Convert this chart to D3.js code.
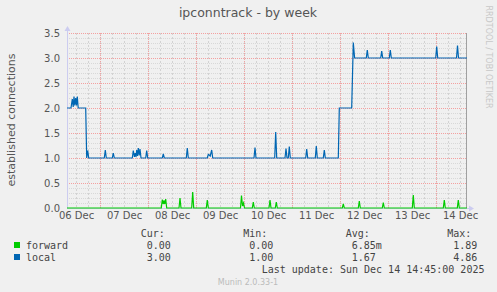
<!DOCTYPE html>
<html>
<head>
<meta charset="utf-8">
<script src="https://cdn.jsdelivr.net/npm/d3@7"></script>
<style>
    html, body { margin: 0; padding: 0; background: #f0f0f0; }
    svg { display: block; }
</style>
</head>
<body>
<svg id="chart" width="497" height="292"></svg>
<script>
// hours counted from 06 Dec 2025 00:00
var startHour = 7.5, endHour = 207.5;
var xTickLabels = ['06 Dec', '07 Dec', '08 Dec', '09 Dec', '10 Dec', '11 Dec', '12 Dec', '13 Dec', '14 Dec'];
var yTicks = [0, 0.5, 1.0, 1.5, 2.0, 2.5, 3.0, 3.5];

var forwardHours = [7.5, 54.65, 55.15, 55.6, 56, 56.4, 56.85, 57.35, 63.5, 64, 64.5, 69.85, 70.35, 70.85,
    77.15, 77.65, 78.15, 94.25, 94.75, 95.25, 95.75, 96.25, 100.15, 100.65, 101.15, 108.5, 109, 109.5,
    111.65, 112.15, 112.65, 145.15, 145.65, 146.15, 153.15, 153.65, 154.15, 165.15, 165.65, 166.15,
    180.15, 180.65, 181.15, 195.65, 196.15, 196.65, 202.65, 203.15, 203.65, 207.5];
var forwardValues = [0, 0, 0.17, 0.08, 0.15, 0.08, 0.18, 0, 0, 0.2, 0, 0, 0.32, 0,
    0, 0.16, 0, 0, 0.25, 0.04, 0.1, 0, 0, 0.12, 0, 0, 0.16, 0,
    0, 0.12, 0, 0, 0.08, 0, 0, 0.14, 0, 0, 0.11, 0,
    0, 0.26, 0, 0, 0.16, 0, 0, 0.16, 0, 0];

var localHours = [7.5, 9.5, 10.15, 10.6, 11, 11.4, 11.85, 12.25, 12.65, 13.1, 16.85, 17.35, 17.85, 18.35,
    26.15, 26.65, 27.15, 30.15, 30.65, 31.15,
    40.15, 40.65, 41.2, 41.6, 42, 42.35, 42.75, 43.15, 43.6, 44, 44.5,
    46.85, 47.35, 47.85, 55.15, 55.65, 56.15, 67.15, 67.65, 68.15,
    77.65, 78.15, 78.6, 79.1, 79.85, 80.35,
    101, 101.5, 102, 111.35, 111.85, 112.35, 116.5, 117, 117.5, 118.15, 118.65, 119.15,
    126.85, 127.35, 127.85, 131.65, 132.15, 132.65, 135.65, 136.15, 136.65,
    143.15, 143.65, 149.85, 150.65, 151.3,
    157.15, 157.65, 158.15, 164.35, 164.85, 165.35, 168.65, 169.15, 169.65,
    191.85, 192.35, 192.85, 202.25, 202.75, 203.25, 207.5];
var localValues = [2, 2, 2.18, 2.02, 2.23, 2.05, 2.2, 2.05, 2.23, 2, 2, 1, 1.15, 1,
    1, 1.16, 1, 1, 1.1, 1,
    1, 1.15, 1.02, 1.1, 1.02, 1.16, 1.04, 1.2, 1.05, 1.18, 1,
    1, 1.15, 1, 1, 1.08, 1, 1, 1.2, 1,
    1, 1.07, 1.06, 1.04, 1.16, 1,
    1, 1.21, 1, 1, 1.52, 1, 1, 1.19, 1, 1, 1.23, 1,
    1, 1.18, 1, 1, 1.24, 1, 1, 1.16, 1,
    1, 2, 2, 3.31, 3,
    3, 3.16, 3, 3, 3.14, 3, 3, 3.16, 3,
    3, 3.23, 3, 3, 3.25, 3, 3];

var legendNames = ['forward', 'local'];
var legendColors = ['#00cc00', '#0066b3'];
var legendCur = ['0.00', '3.00'];
var legendMin = ['0.00', '1.00'];
var legendAvg = ['6.85m', '1.67'];
var legendMax = ['1.89', '4.86'];

(function () {
    'use strict';
    var base = new Date(2025, 11, 6);
    var toDate = function (h) { return d3.timeMinute.offset(base, Math.round(h * 60)); };

    var svg = d3.select('#chart');
    svg.append('rect').attr('width', 497).attr('height', 292).attr('fill', '#f0f0f0');

    var left = 67, right = 467, top = 33, bottom = 208;
    var x = d3.scaleTime().domain([toDate(startHour), toDate(endHour)]).range([left, right]);
    var y = d3.scaleLinear().domain([0, 3.5]).range([bottom, top]);

    var grid = svg.append('g').attr('shape-rendering', 'crispEdges');
    // minor grid
    d3.timeHour.every(6).range(x.domain()[0], x.domain()[1]).forEach(function (t) {
        var px = Math.round(x(t)) + 0.5;
        grid.append('line').attr('x1', px).attr('x2', px).attr('y1', top).attr('y2', bottom)
            .attr('stroke', '#d2d2d2').attr('stroke-dasharray', '2,2');
    });
    d3.range(0, 36).forEach(function (i) {
        if (i % 5 === 0) return;
        var py = Math.round(y(i / 10)) + 0.5;
        grid.append('line').attr('x1', left).attr('x2', right).attr('y1', py).attr('y2', py)
            .attr('stroke', '#d8d8d8').attr('stroke-dasharray', '1,1');
    });
    // major grid
    d3.timeDay.range(x.domain()[0], x.domain()[1]).forEach(function (t) {
        var px = Math.round(x(t)) + 0.5;
        grid.append('line').attr('x1', px).attr('x2', px).attr('y1', top).attr('y2', bottom)
            .attr('stroke', '#f4a0a0').attr('stroke-dasharray', '1,1');
    });
    yTicks.forEach(function (v) {
        var py = Math.round(y(v)) + 0.5;
        grid.append('line').attr('x1', left).attr('x2', right).attr('y1', py).attr('y2', py)
            .attr('stroke', '#f4a0a0').attr('stroke-dasharray', '1,1');
    });

    // axes
    grid.append('line').attr('x1', left + 0.5).attr('x2', left + 0.5).attr('y1', top - 3).attr('y2', bottom)
        .attr('stroke', '#ccccf0');
    grid.append('line').attr('x1', left).attr('x2', right + 3).attr('y1', bottom + 0.5).attr('y2', bottom + 0.5)
        .attr('stroke', '#ccccf0');
    grid.append('line').attr('x1', right - 0.5).attr('x2', right - 0.5).attr('y1', top).attr('y2', bottom)
        .attr('stroke', '#a0a0a0');
    svg.append('path').attr('d', 'M' + (left - 2.5) + ',' + (top - 2) + 'L' + (left + 0.5) + ',' + (top - 7) + 'L' + (left + 3.5) + ',' + (top - 2) + 'Z')
        .attr('fill', '#ccccf0');
    svg.append('path').attr('d', 'M' + (right + 2) + ',' + (bottom - 2.5) + 'L' + (right + 7) + ',' + (bottom + 0.5) + 'L' + (right + 2) + ',' + (bottom + 3.5) + 'Z')
        .attr('fill', '#ccccf0');

    var font = 'DejaVu Sans, sans-serif';
    var yAxis = d3.axisLeft(y).tickValues(yTicks).tickFormat(d3.format('.1f')).tickSize(0).tickPadding(7);
    var ya = svg.append('g').attr('transform', 'translate(' + left + ',0)').call(yAxis);
    ya.select('.domain').remove();
    ya.selectAll('text').attr('font-family', font).attr('font-size', 10).attr('fill', '#555');

    var xTickDates = xTickLabels.map(function (d, i) { return toDate(i * 24 + 12); });
    var xAxis = d3.axisBottom(x).tickValues(xTickDates).tickFormat(function (d, i) { return xTickLabels[i]; })
        .tickSize(0).tickPadding(4);
    var xa = svg.append('g').attr('transform', 'translate(0,' + bottom + ')').call(xAxis);
    xa.select('.domain').remove();
    xa.selectAll('text').attr('font-family', font).attr('font-size', 10).attr('fill', '#555');

    // series
    var line = d3.line()
        .x(function (d) { return x(toDate(d[0])); })
        .y(function (d) { return y(d[1]); });
    svg.append('path').attr('d', line(d3.zip(forwardHours, forwardValues)))
        .attr('fill', 'none').attr('stroke', legendColors[0]).attr('stroke-width', 1.2);
    svg.append('path').attr('d', line(d3.zip(localHours, localValues)))
        .attr('fill', 'none').attr('stroke', legendColors[1]).attr('stroke-width', 1.2);

    // texts
    svg.append('text').attr('x', 248).attr('y', 17).attr('text-anchor', 'middle')
        .attr('font-family', font).attr('font-size', 12.5).attr('fill', '#555').text('ipconntrack - by week');
    svg.append('text').attr('transform', 'translate(15,120) rotate(-90)').attr('text-anchor', 'middle')
        .attr('font-family', font).attr('font-size', 11).attr('fill', '#555').text('established connections');
    svg.append('text').attr('transform', 'translate(486,57) rotate(90)').attr('text-anchor', 'middle')
        .attr('font-family', font).attr('font-size', 8).attr('fill', '#c8c8c8').text('RRDTOOL / TOBI OETIKER');

    var mono = 'DejaVu Sans Mono, monospace';
    var legend = svg.append('g').attr('font-family', mono).attr('font-size', 10).attr('fill', '#444');
    [['Cur:', 140.7], ['Min:', 243.3], ['Avg:', 345.7], ['Max:', 447.3]].forEach(function (h) {
        legend.append('text').attr('x', h[1]).attr('y', 237).text(h[0]);
    });
    legendNames.forEach(function (name, i) {
        var ry = 249 + i * 12;
        legend.append('rect').attr('x', 14).attr('y', ry - 7).attr('width', 6).attr('height', 6).attr('fill', legendColors[i]);
        legend.append('text').attr('x', 26).attr('y', ry).text(name);
        legend.append('text').attr('x', 146.7).attr('y', ry).text(legendCur[i]);
        legend.append('text').attr('x', 249.3).attr('y', ry).text(legendMin[i]);
        legend.append('text').attr('x', 351.7).attr('y', ry).text(legendAvg[i]);
        legend.append('text').attr('x', 453.3).attr('y', ry).text(legendMax[i]);
    });
    legend.append('text').attr('x', 261.7).attr('y', 273).text('Last update: Sun Dec 14 14:45:00 2025');
    svg.append('text').attr('x', 248).attr('y', 285).attr('text-anchor', 'middle')
        .attr('font-family', font).attr('font-size', 8).attr('fill', '#bbb').text('Munin 2.0.33-1');
})();
</script>
</body>
</html>
